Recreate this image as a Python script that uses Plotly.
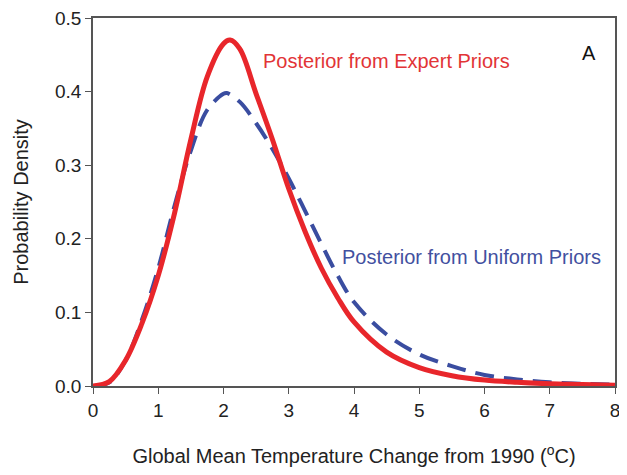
import plotly.graph_objects as go

x_expert = [0, 0.25, 0.5, 0.75, 1.0, 1.25, 1.5, 1.75, 2.0, 2.1, 2.25, 2.5, 2.75, 3.0, 3.25, 3.5, 3.75, 4.0, 4.5, 5.0, 5.5, 6.0, 6.5, 7.0, 7.5, 8.0]
y_expert = [0.0, 0.006, 0.035, 0.085, 0.15, 0.235, 0.335, 0.42, 0.465, 0.470, 0.458, 0.397, 0.335, 0.268, 0.21, 0.16, 0.12, 0.087, 0.046, 0.025, 0.014, 0.008, 0.005, 0.003, 0.002, 0.001]

x_uniform = [0, 0.25, 0.5, 0.75, 1.0, 1.25, 1.5, 1.75, 2.0, 2.05, 2.25, 2.5, 2.75, 3.0, 3.25, 3.5, 3.75, 4.0, 4.5, 5.0, 5.5, 6.0, 6.5, 7.0, 7.5, 8.0]
y_uniform = [0.0, 0.005, 0.035, 0.09, 0.16, 0.245, 0.32, 0.375, 0.397, 0.398, 0.386, 0.357, 0.322, 0.282, 0.238, 0.193, 0.15, 0.114, 0.07, 0.043, 0.027, 0.015, 0.009, 0.005, 0.003, 0.002]

x_ticks = [0, 1, 2, 3, 4, 5, 6, 7, 8]
y_ticks = [0.0, 0.1, 0.2, 0.3, 0.4, 0.5]
y_tick_labels = ["0.0", "0.1", "0.2", "0.3", "0.4", "0.5"]

red = "#E8262B"
blue = "#3A4DA0"
font_family = "Liberation Sans, Arial"

fig = go.Figure()
fig.add_trace(go.Scatter(x=x_uniform, y=y_uniform, mode="lines",
                         line=dict(color=blue, width=4, dash="19px,10px", shape="spline", smoothing=1.0),
                         showlegend=False))
fig.add_trace(go.Scatter(x=x_expert, y=y_expert, mode="lines",
                         line=dict(color=red, width=5, shape="spline", smoothing=1.0),
                         showlegend=False))

# plot area in page pixels: x 93..615, y 18..386
X0, X1, Y0, Y1 = 93, 615, 18, 386

def px(xp):
    return (xp - X0) / (X1 - X0)

def py(yp):
    return (Y1 - yp) / (Y1 - Y0)

fig.add_annotation(xref="paper", yref="paper", x=px(261), y=py(61),
                   text="Posterior from Expert Priors", showarrow=False, xanchor="left", yanchor="middle",
                   font=dict(family=font_family, size=20, color="#E23436"))
fig.add_annotation(xref="paper", yref="paper", x=px(340), y=py(257),
                   text="Posterior from Uniform Priors", showarrow=False, xanchor="left", yanchor="middle",
                   font=dict(family=font_family, size=20, color="#4250A0"))
fig.add_annotation(xref="paper", yref="paper", x=px(589), y=py(53),
                   text="A", showarrow=False, xanchor="center", yanchor="middle",
                   font=dict(family=font_family, size=20, color="#111111"))

# page body has an 8px margin, so the figure is shifted by 8px
fig.update_layout(
    width=613, height=459,
    margin=dict(l=85, r=6, t=10, b=81),
    plot_bgcolor="white", paper_bgcolor="white",
    font=dict(family=font_family, size=19, color="#222222"),
    xaxis=dict(range=[0, 8], tickvals=x_ticks, ticks="outside", ticklen=6, tickcolor="#555555",
               showline=True, linecolor="#555555", linewidth=1.5, mirror=True, showgrid=False, zeroline=False,
               ticklabeloverflow="allow", automargin=False,
               title=dict(text="Global Mean Temperature Change from 1990 (<sup>o</sup>C)", font=dict(size=20), standoff=30),
               tickfont=dict(size=19)),
    yaxis=dict(range=[0, 0.5], tickvals=y_ticks, ticktext=y_tick_labels, ticks="outside", ticklen=6, tickcolor="#555555",
               showline=True, linecolor="#555555", linewidth=1.5, mirror=True, showgrid=False, zeroline=False,
               ticklabeloverflow="allow", automargin=False,
               title=dict(text="Probability Density", font=dict(size=20), standoff=21),
               tickfont=dict(size=19)),
)

fig.write_html("out.html")
